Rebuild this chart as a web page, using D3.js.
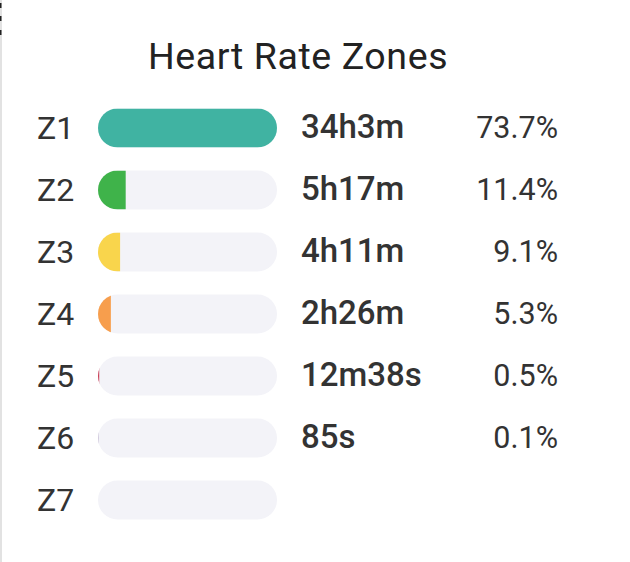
<!DOCTYPE html>
<html>
<head>
<meta charset="utf-8">
<script src="https://cdn.jsdelivr.net/npm/d3@7"></script>
<style>
  html, body { margin: 0; padding: 0; background: #fff; }
  svg { display: block; font-family: Roboto, "Noto Sans", sans-serif; }
</style>
</head>
<body>
<svg id="chart" width="630" height="562"></svg>
<script>
const zones = ["Z1", "Z2", "Z3", "Z4", "Z5", "Z6", "Z7"];
const durations = ["34h3m", "5h17m", "4h11m", "2h26m", "12m38s", "85s", ""];
const percents = [73.7, 11.4, 9.1, 5.3, 0.5, 0.1, 0];
const colors = ["#40b3a2", "#3fb34a", "#f9d54c", "#f79e4d", "#c8374f", "#6a4e8c", "#9b9b9b"];

const svg = d3.select("#chart");

// left edge rule
svg.append("rect").attr("x", 0).attr("y", 0).attr("width", 2).attr("height", 562).attr("fill", "#e2e2e2");
[3, 16, 30].forEach(y => svg.append("rect").attr("x", 0).attr("y", y).attr("width", 1.5).attr("height", 5).attr("fill", "#222"));

svg.append("text")
  .attr("x", 298).attr("y", 69)
  .attr("text-anchor", "middle")
  .attr("font-size", 37.5).attr("font-weight", 450)
  .attr("letter-spacing", 0.6)
  .attr("fill", "#222")
  .text("Heart Rate Zones");

const barX = 98, barW = 179, barH = 39;
const y = d3.scaleBand().domain(zones).range([97, 531]).paddingInner(0.37).paddingOuter(0.185);
const x = d3.scaleLinear().domain([0, d3.max(percents)]).range([0, barW]);

const defs = svg.append("defs");
const rows = svg.selectAll(".row").data(zones).enter().append("g")
  .attr("class", "row")
  .attr("transform", d => `translate(0,${y(d) + y.bandwidth() / 2})`);

rows.each(function(d, i) {
  defs.append("clipPath").attr("id", "clip" + i)
    .append("rect").attr("x", barX).attr("y", -barH / 2).attr("width", barW).attr("height", barH).attr("rx", barH / 2);
});

rows.append("rect")
  .attr("x", barX).attr("y", -barH / 2)
  .attr("width", barW).attr("height", barH)
  .attr("rx", barH / 2)
  .attr("fill", "#f3f3f8");

rows.append("rect")
  .attr("clip-path", (d, i) => `url(#clip${i})`)
  .attr("x", barX).attr("y", -barH / 2)
  .attr("width", (d, i) => x(percents[i]))
  .attr("height", barH)
  .attr("fill", (d, i) => colors[i]);

rows.append("text")
  .attr("x", 37).attr("y", 11)
  .attr("font-size", 32).attr("fill", "#333")
  .text(d => d);

rows.append("text")
  .attr("x", 301).attr("y", 10)
  .attr("font-size", 33).attr("font-weight", 500).attr("fill", "#333")
  .text((d, i) => durations[i]);

rows.append("text")
  .attr("x", 558).attr("y", 10)
  .attr("text-anchor", "end")
  .attr("font-size", 30.5).attr("fill", "#333")
  .text((d, i) => percents[i] > 0 ? percents[i].toFixed(1) + "%" : "");
</script>
</body>
</html>
